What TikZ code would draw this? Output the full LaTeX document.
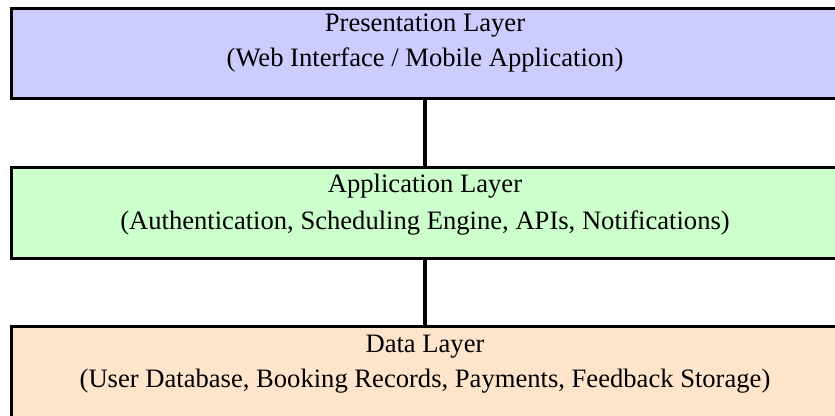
\documentclass[tikz,border=0pt]{standalone}
\usepackage{fontspec}
\setmainfont{Liberation Serif}
\definecolor{presc}{HTML}{CCCCFF}
\definecolor{appc}{HTML}{CCFFCC}
\definecolor{datac}{HTML}{FFE4CC}
\begin{document}
\begin{tikzpicture}[x=1pt,y=1pt,
  layerbox/.style={draw=black,line width=3pt,minimum width=828pt,inner sep=0pt,outer sep=0pt},
  layertext/.style={anchor=base,inner sep=0pt,font=\fontsize{26.6}{30}\selectfont},
  link/.style={draw=black,line width=3.2pt}]
\clip (0,0) rectangle (835,415);
\node[layerbox,fill=presc,minimum height=90pt] (pres) at (425,361) {};
\node[layerbox,fill=appc,minimum height=91pt] (app) at (425,201.5) {};
\node[layerbox,fill=datac,minimum height=91pt] (data) at (425,42.5) {};
\draw[link] (pres.south) -- (app.north);
\draw[link] (app.south) -- (data.north);
\node[layertext] (p1) at (425,383) {Presentation Layer};
\node[layertext] (p2) at (425,348) {(Web Interface / Mobile Application)};
\node[layertext] (a1) at (425,222) {Application Layer};
\node[layertext] (a2) at (425,185) {(Authentication, Scheduling Engine, APIs, Notifications)};
\node[layertext] (d1) at (425,63) {Data Layer};
\node[layertext] (d2) at (425,28) {(User Database, Booking Records, Payments, Feedback Storage)};
\end{tikzpicture}
\end{document}
